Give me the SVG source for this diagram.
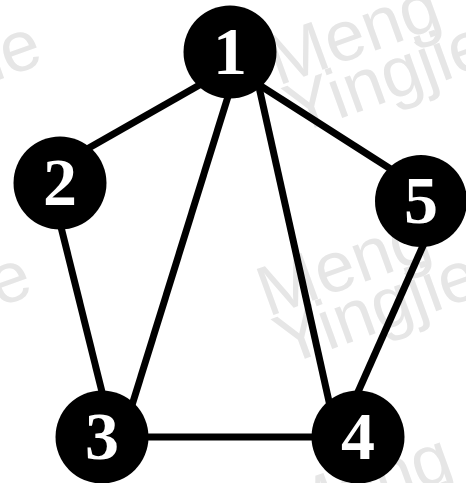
<svg xmlns="http://www.w3.org/2000/svg" width="466" height="483" viewBox="0 0 466 483">
<style>
.wm{font-family:"Liberation Sans",Arial,sans-serif;font-size:71px;fill:#e6e6e6}
.edge{stroke:#000;stroke-width:7;stroke-linecap:butt;fill:none}
.node circle{fill:#000}
.node text{font-family:"Liberation Serif","Times New Roman",serif;font-weight:bold;font-size:68px;fill:#fff;text-anchor:middle}
</style>
<rect width="466" height="483" fill="#fff"/>
<g id="watermark">
<g transform="translate(278,86) rotate(-20)"><text class="wm" x="0" y="0">Meng</text><text class="wm" x="0" y="52">Yingjie</text></g>
<g transform="translate(268,317) rotate(-20)"><text class="wm" x="0" y="0">Meng</text><text class="wm" x="0" y="52">Yingjie</text></g>
<g transform="translate(290,537) rotate(-20)"><text class="wm" x="0" y="0">Meng</text><text class="wm" x="0" y="52">Yingjie</text></g>
<g transform="translate(-170,86) rotate(-20)"><text class="wm" x="0" y="0">Meng</text><text class="wm" x="0" y="52">Yingjie</text></g>
<g transform="translate(-180,317) rotate(-20)"><text class="wm" x="0" y="0">Meng</text><text class="wm" x="0" y="52">Yingjie</text></g>
</g>
<g id="connectors">
<line class="edge" x1="210" y1="79" x2="80" y2="153"/>
<line class="edge" x1="230" y1="90" x2="128" y2="418"/>
<line class="edge" x1="257" y1="78" x2="332" y2="415"/>
<line class="edge" x1="253" y1="81" x2="400" y2="175"/>
<line class="edge" x1="58" y1="215" x2="106" y2="408"/>
<line class="edge" x1="140" y1="437" x2="320" y2="437"/>
<line class="edge" x1="426" y1="239" x2="354" y2="401"/>
</g>
<g id="node1" class="node"><circle cx="230" cy="52" r="46.5"/><text x="230" y="74">1</text></g>
<g id="node2" class="node"><circle cx="60" cy="183" r="46.5"/><text x="60" y="205">2</text></g>
<g id="node5" class="node"><circle cx="421" cy="201" r="46"/><text x="421" y="223">5</text></g>
<g id="node3" class="node"><circle cx="102" cy="437" r="46.5"/><text x="102" y="459">3</text></g>
<g id="node4" class="node"><circle cx="358" cy="437" r="46.5"/><text x="358" y="459">4</text></g>
</svg>
